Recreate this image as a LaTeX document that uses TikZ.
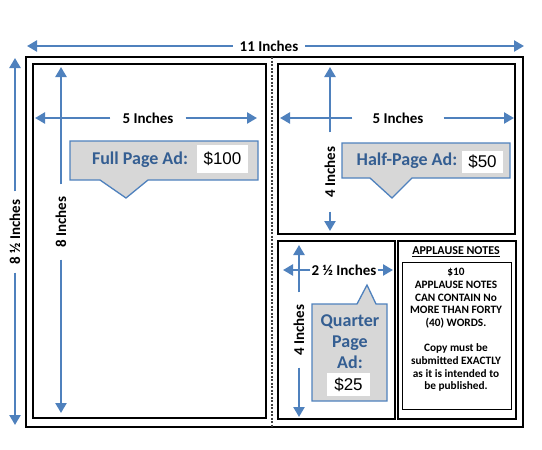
\documentclass[tikz,border=0pt]{standalone}
\usepackage{fontspec}
\setmainfont{Carlito}
\newfontfamily\pricefont{Liberation Sans}
\usetikzlibrary{arrows.meta, positioning}
\definecolor{dimblue}{RGB}{79,129,189}
\definecolor{adblue}{RGB}{52,94,146}
\definecolor{adgray}{RGB}{215,215,215}

\begin{document}
\begin{tikzpicture}[x=1pt, y=-1pt, >={Triangle[length=10pt, width=11pt]},
    frame/.style={draw, line width=1.4pt},
    dim/.style={draw=dimblue, line width=2.5pt, ->},
    dimlbl/.style={font=\bfseries\fontsize{15}{15}\selectfont, inner xsep=10pt, inner ysep=0pt},
    adshape/.style={draw=dimblue, line width=1.3pt, fill=adgray},
    adlbl/.style={text=adblue, font=\bfseries\fontsize{18}{21}\selectfont, align=center, inner sep=0pt},
    price/.style={fill=white, font=\pricefont\fontsize{17}{17}\selectfont, inner sep=0pt},
    notes/.style={font=\bfseries\fontsize{11.3}{12.67}\selectfont, align=center, inner sep=0pt}]

\useasboundingbox (0,0) rectangle (542,450);

% page and ad frames
\draw[frame] (26,57) rectangle (523,427);
\draw[frame] (33,64) rectangle (266,418);
\draw[frame] (278,64) rectangle (515,234);
\draw[frame] (278,241) rectangle (395,419);
\draw[frame] (398,241) rectangle (516,419);
\draw[line width=0.9pt] (402,262) rectangle (511,409);
\draw[black!75, line width=1.2pt, dash pattern=on 2.2pt off 1.3pt] (272,57) -- (272,427);

% overall size
\node (w11) [dimlbl, inner xsep=7pt] at (269,46) {11 Inches};
\coordinate (w11l) at (27,46);
\coordinate (w11r) at (524,46);
\draw[dim] (w11) -- (w11l);
\draw[dim] (w11) -- (w11r);

\node (h85) [dimlbl, rotate=90, inner xsep=8pt] at (15,232) {8 ½ Inches};
\coordinate (h85t) at (15,58);
\coordinate (h85b) at (15,425);
\draw[dim] (h85) -- (h85t);
\draw[dim] (h85) -- (h85b);

% full page
\node (h8) [dimlbl, rotate=90, inner xsep=12pt] at (61,222) {8 Inches};
\coordinate (h8t) at (61,67);
\coordinate (h8b) at (61,413);
\draw[dim] (h8) -- (h8t);
\draw[dim] (h8) -- (h8b);

\node (w5a) [dimlbl, inner xsep=12pt] at (148,118) {5 Inches};
\coordinate (w5al) at (35,118);
\coordinate (w5ar) at (257,118);
\draw[dim] (w5a) -- (w5al);
\draw[dim] (w5a) -- (w5ar);

\draw[adshape] (70,141) -- (258,141) -- (258,180) -- (148,180) -- (126,198)
  -- (100,180) -- (70,180) -- cycle;
\node (full) [adlbl] at (140,160) {Full Page Ad:};
\node (p100) [price, minimum width=51pt, minimum height=28pt] at (222.5,159) {\$100};

% half page
\node (w5b) [dimlbl, inner xsep=20pt] at (398,118) {5 Inches};
\coordinate (w5bl) at (280,118);
\coordinate (w5br) at (514,118);
\draw[dim] (w5b) -- (w5bl);
\draw[dim] (w5b) -- (w5br);

\node (h4a) [dimlbl, rotate=90, inner xsep=14pt] at (330,172) {4 Inches};
\coordinate (h4at) at (330,67);
\coordinate (h4ab) at (330,231);
\draw[dim] (h4a) -- (h4at);
\draw[dim] (h4a) -- (h4ab);

\draw[adshape] (342,143) -- (510,143) -- (510,178) -- (412,178) -- (392,198)
  -- (370,178) -- (342,178) -- cycle;
\node (half) [adlbl] at (407,161) {Half-Page Ad:};
\node (p50) [price, minimum width=41pt, minimum height=22pt] at (482.5,162) {\$50};

% quarter page
\node (w25) [dimlbl, inner xsep=1pt] at (344,270) {2 ½ Inches};
\coordinate (w25l) at (283,270);
\coordinate (w25r) at (393,270);
\draw[dim] (w25) -- (w25l);
\draw[dim] (w25) -- (w25r);

\node (h4b) [dimlbl, rotate=90, inner xsep=12pt] at (299,330) {4 Inches};
\coordinate (h4bt) at (299,245);
\coordinate (h4bb) at (299,417);
\draw[dim] (h4b) -- (h4bt);
\draw[dim] (h4b) -- (h4bb);

\draw[adshape] (312,304) -- (357,304) -- (367,285) -- (376,304) -- (387,304)
  -- (387,401) -- (312,401) -- cycle;
\node (quarter) [adlbl] at (350,342) {Quarter\\Page\\Ad:};
\node (p25) [price, minimum width=43pt, minimum height=23pt] at (348.5,384.5) {\$25};

% applause notes
\node (apptitle) [font=\bfseries\fontsize{12}{12}\selectfont, inner sep=0pt] at (456,252) {\underline{APPLAUSE NOTES}};
\node (apptext) [notes] at (456,330) {\$10\\APPLAUSE NOTES\\CAN CONTAIN No\\MORE THAN FORTY\\(40) WORDS.\\[12.67pt]
  Copy must be\\submitted EXACTLY\\as it is intended to\\be published.};
\end{tikzpicture}
\end{document}
